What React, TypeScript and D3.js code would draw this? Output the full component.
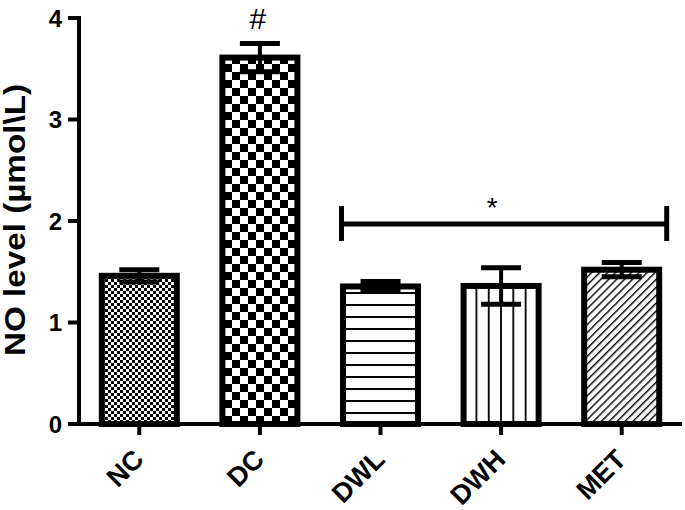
import React from 'react';
import * as d3 from 'd3';

const groups = ['NC', 'DC', 'DWL', 'DWH', 'MET'];
const means = [1.46, 3.61, 1.355, 1.36, 1.52];
const errs = [0.06, 0.14, 0.05, 0.18, 0.07];
const patterns = ['fineCheck', 'bigCheck', 'hLines', 'vLines', 'diag'];
const yTicks = [0, 1, 2, 3, 4];

const W = 685;
const H = 510;
const left = 79;
const right = 682;
const bottom = 424;
const top = 18;
const font = '"Liberation Sans", Arial, sans-serif';

const App: React.FC = () => {
  const x = d3.scaleBand<string>().domain(groups).range([left, right]).paddingInner(0.378).paddingOuter(0.189);
  const y = d3.scaleLinear().domain([0, 4]).range([bottom, top]);
  const bw = x.bandwidth();
  const cx = (g: string) => (x(g) as number) + bw / 2;

  const sigY = y(1.97);
  const sigX1 = cx('DWL') - 39;
  const sigX2 = cx('MET') + 45;

  return (
    <svg width={W} height={H} style={{ position: 'absolute', left: 0, top: 0, background: '#fff' }}>
      <defs>
        <pattern id="fineCheck" width={6} height={6} patternUnits="userSpaceOnUse">
          <rect width={6} height={6} fill="#fff" />
          <rect width={3} height={3} fill="#000" />
          <rect x={3} y={3} width={3} height={3} fill="#000" />
        </pattern>
        <pattern id="bigCheck" width={16} height={16} patternUnits="userSpaceOnUse">
          <rect width={16} height={16} fill="#fff" />
          <rect width={8} height={8} fill="#000" />
          <rect x={8} y={8} width={8} height={8} fill="#000" />
        </pattern>
        <pattern id="hLines" width={12} height={12} patternUnits="userSpaceOnUse" y={bottom}>
          <rect width={12} height={12} fill="#fff" />
          <rect y={0} width={12} height={2} fill="#000" />
        </pattern>
        <pattern id="vLines" width={12.3} height={12} patternUnits="userSpaceOnUse" x={cx('DWH') - 1}>
          <rect width={12.3} height={12} fill="#fff" />
          <rect x={0} width={1.8} height={12} fill="#000" />
        </pattern>
        <pattern id="diag" width={5.6} height={5.6} patternUnits="userSpaceOnUse" patternTransform="rotate(45)">
          <rect width={5.6} height={5.6} fill="#fff" />
          <rect x={0} width={1.4} height={5.6} fill="#000" />
        </pattern>
      </defs>

      {groups.map((g, i) => {
        const x0 = x(g) as number;
        const yt = y(means[i]);
        const c = cx(g);
        const yu = y(means[i] + errs[i]);
        const yl = y(means[i] - errs[i]);
        return (
          <g key={g}>
            <line x1={c} x2={c} y1={yu} y2={yt} stroke="#000" strokeWidth={4} />
            <rect x={x0} y={yt} width={bw} height={bottom - yt} fill={`url(#${patterns[i]})`} stroke="#000" strokeWidth={6} />
            <line x1={c} x2={c} y1={yt} y2={yl} stroke="#000" strokeWidth={4} />
            <line x1={c - 20} x2={c + 20} y1={yu} y2={yu} stroke="#000" strokeWidth={5} />
            <line x1={c - 20} x2={c + 20} y1={yl} y2={yl} stroke="#000" strokeWidth={5} />
          </g>
        );
      })}

      {/* y axis */}
      <line x1={left} x2={left} y1={top - 2} y2={bottom + 2} stroke="#000" strokeWidth={4} />
      {yTicks.map((t) => (
        <g key={t}>
          <line x1={left - 11} x2={left} y1={y(t)} y2={y(t)} stroke="#000" strokeWidth={4} />
          <text x={left - 17} y={y(t)} dy="0.36em" textAnchor="end" fontFamily={font} fontWeight="bold" fontSize={24}>
            {t}
          </text>
        </g>
      ))}
      <text
        transform={`translate(25, 220) rotate(-90)`}
        textAnchor="middle"
        fontFamily={font}
        fontWeight="bold"
        fontSize={29}
        textLength={272}
        lengthAdjust="spacingAndGlyphs"
      >
        NO level (µmol\L)
      </text>

      {/* x axis */}
      <line x1={left - 2} x2={right} y1={bottom} y2={bottom} stroke="#000" strokeWidth={4} />
      {groups.map((g) => (
        <g key={g}>
          <line x1={cx(g)} x2={cx(g)} y1={bottom} y2={bottom + 11} stroke="#000" strokeWidth={4} />
          <text
            transform={`translate(${cx(g) + 6}, ${bottom + 37}) rotate(-45)`}
            textAnchor="end"
            fontFamily={font}
            fontWeight="bold"
            fontSize={27}
          >
            {g}
          </text>
        </g>
      ))}

      {/* significance marks */}
      <text x={cx('DC') - 2} y={29} textAnchor="middle" fontFamily={font} fontSize={30}>
        #
      </text>
      <line x1={sigX1} x2={sigX2} y1={sigY} y2={sigY} stroke="#000" strokeWidth={5} />
      <line x1={sigX1} x2={sigX1} y1={sigY - 18} y2={sigY + 17} stroke="#000" strokeWidth={5} />
      <line x1={sigX2} x2={sigX2} y1={sigY - 18} y2={sigY + 17} stroke="#000" strokeWidth={5} />
      <text x={cx('DWH') - 9} y={217} textAnchor="middle" fontFamily={font} fontSize={28}>
        *
      </text>
    </svg>
  );
};

export default App;
